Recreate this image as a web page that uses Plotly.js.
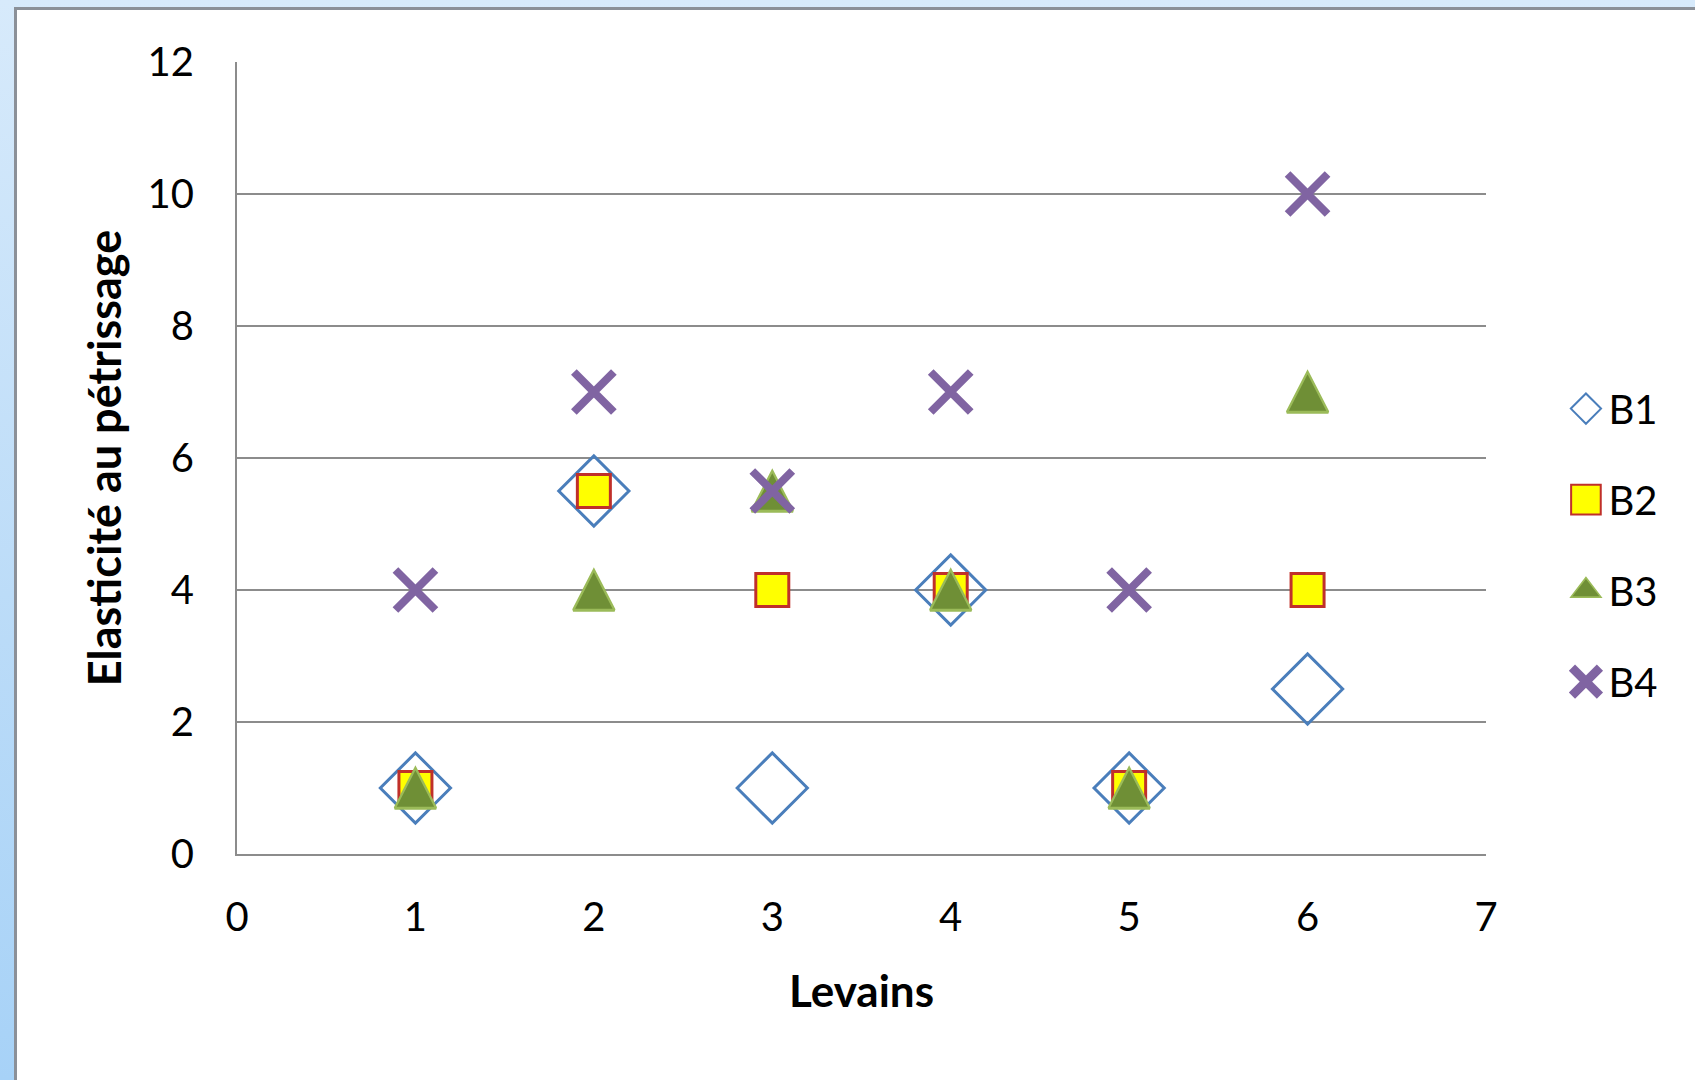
<!DOCTYPE html>
<html>
<head>
<meta charset="utf-8">
<script src="https://cdn.plot.ly/plotly-3.0.1.min.js"></script>
<style>
  html, body { margin: 0; padding: 0; }
  body {
    width: 1695px; height: 1080px; overflow: hidden; position: relative;
    background: linear-gradient(to bottom, #d7eafb 0%, #bcdcf8 55%, #a7d2f7 100%);
  }
  #sheet {
    position: absolute; left: 14px; top: 7px; right: 0; bottom: 0;
    background: #ffffff;
    border-left: 3px solid #8b9098;
    border-top: 3px solid #8b9098;
  }
  #chart { position: absolute; left: 0; top: 0; width: 1695px; height: 1080px; }
</style>
</head>
<body>
<div id="sheet"></div>
<div id="chart"></div>
<script>
// Levain number on the x axis
const levains = [1, 2, 3, 4, 5, 6];

// Elasticity values per series
const b1 = [1, 5.5, 1, 4, 1, 2.5];
const b2 = [1, 5.5, 4, 4, 1, 4];
const b3 = [1, 4, 5.5, 4, 1, 7];
const b4 = [4, 7, 5.5, 7, 4, 10];

const seriesNames = ['B1', 'B2', 'B3', 'B4'];

const font = 'Lato, "Open Sans", sans-serif';

const traces = [
  {
    x: levains, y: b1, name: seriesNames[0], legendgroup: 'g1',
    type: 'scatter', mode: 'markers',
    marker: { symbol: 'diamond', size: 54, color: 'rgba(0,0,0,0)',
              line: { color: '#4a7ebb', width: 3 } }
  },
  {
    x: levains, y: b2, name: seriesNames[1], legendgroup: 'g2',
    type: 'scatter', mode: 'markers',
    marker: { symbol: 'square', size: 33, color: '#ffff00',
              line: { color: '#c0302a', width: 3 } }
  },
  {
    x: levains, y: b3, name: seriesNames[2], legendgroup: 'g3',
    type: 'scatter', mode: 'markers',
    marker: { symbol: 'triangle-up', size: 36, color: '#6f8f36',
              line: { color: '#9bbb59', width: 2 } }
  },
  {
    x: levains, y: b4, name: seriesNames[3], legendgroup: 'g4',
    type: 'scatter', mode: 'markers',
    marker: { symbol: 'x-thin-open', size: 40, color: '#8064a2',
              line: { color: '#8064a2', width: 8 } }
  }
];

const layout = {
  width: 1695, height: 1080,
  paper_bgcolor: 'rgba(0,0,0,0)',
  plot_bgcolor: 'rgba(0,0,0,0)',
  margin: { l: 237, r: 209, t: 62, b: 226, pad: 0 },
  font: { family: font, size: 40, color: '#000000' },
  showlegend: true,
  legend: {
    x: 1.062, xanchor: 'left', y: 0.39, yanchor: 'middle',
    font: { family: font, size: 40, color: '#000000' },
    traceorder: 'grouped', tracegroupgap: 36,
    bgcolor: 'rgba(0,0,0,0)', itemwidth: 35
  },
  xaxis: {
    range: [0, 7], dtick: 1, tick0: 0,
    showgrid: false, zeroline: false,
    showline: true, linecolor: '#8c8c8c', linewidth: 2,
    ticks: '', ticklabelstandoff: 27,
    tickfont: { family: font, size: 40, color: '#000000' },
    title: { text: '<b>Levains</b>', font: { family: font, size: 44, color: '#000000' }, standoff: 37 },
    fixedrange: true
  },
  yaxis: {
    range: [0, 12], dtick: 2, tick0: 0,
    showgrid: true, gridcolor: '#8c8c8c', gridwidth: 2,
    zeroline: false,
    showline: true, linecolor: '#8c8c8c', linewidth: 2,
    ticks: '', ticklabelstandoff: 33,
    tickfont: { family: font, size: 40, color: '#000000' },
    title: { text: '<b>Elasticité au pétrissage</b>', font: { family: font, size: 45, color: '#000000' }, standoff: 12 },
    fixedrange: true
  }
};

const gd = document.getElementById('chart');
Plotly.newPlot(gd, traces, layout, { displayModeBar: false, staticPlot: true }).then(function () {
  // Triangles are drawn taller than equilateral, centred on their value
  const layers = gd.querySelectorAll('.scatterlayer .trace');
  if (layers[2]) {
    layers[2].querySelectorAll('path.point').forEach(function (p) {
      const t = p.getAttribute('transform') || '';
      p.setAttribute('transform', t + ' translate(0,6.75) scale(1,1.5)');
    });
  }
  // Larger legend symbols with thin outlines
  const legendStyle = [
    { s: 1.45, w: 1.4 },
    { s: 1.85, w: 1.1 },
    { s: 1.62, w: 1.0 },
    { s: 1.75, w: null }
  ];
  gd.querySelectorAll('.legend .traces').forEach(function (g, i) {
    const st = legendStyle[i];
    if (!st) return;
    g.querySelectorAll('.legendpoints path').forEach(function (p) {
      const t = p.getAttribute('transform') || '';
      p.setAttribute('transform', t + ' scale(' + st.s + ')');
      if (st.w !== null) p.style.strokeWidth = st.w + 'px';
    });
  });
});
</script>
</body>
</html>
